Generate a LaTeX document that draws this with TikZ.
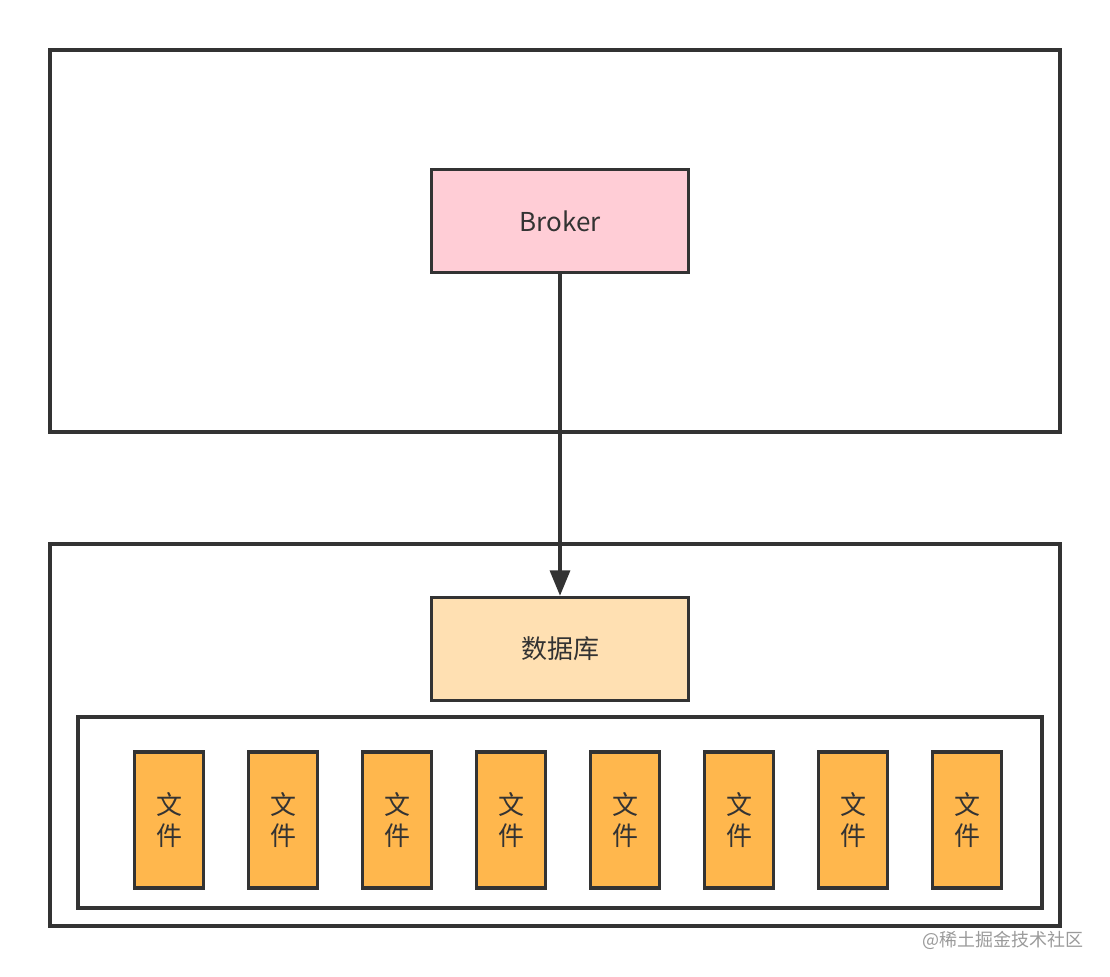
\documentclass[tikz,border=0pt]{standalone}
\usepackage{fontspec}
\setmainfont{Noto Sans CJK SC}
\usetikzlibrary{arrows.meta}
\definecolor{linec}{HTML}{333333}
\definecolor{pinkf}{HTML}{FFCDD6}
\definecolor{dbf}{HTML}{FFE0B2}
\definecolor{filef}{HTML}{FFB74D}
\definecolor{wmc}{HTML}{9A9A9A}
\tikzset{
  frame/.style={draw=linec, line width=2.4pt},
  boxn/.style={draw=linec, line width=2.4pt, minimum width=193pt, minimum height=77.5pt, inner sep=0pt, text=linec, font=\fontsize{19.5pt}{22pt}\selectfont},
  filebox/.style={draw=linec, line width=2.4pt, fill=filef, minimum width=51.8pt, minimum height=102pt, inner sep=0pt, text=linec, align=center, font=\fontsize{19.5pt}{23pt}\selectfont},
  conn/.style={draw=linec, line width=2.4pt, -{Triangle[length=19pt,width=15pt]}}
}
\begin{document}
\begin{tikzpicture}[x=0.75pt,y=-0.75pt]
\useasboundingbox (0,0) rectangle (1110,976);
\draw[frame] (50,50) rectangle (1060,432);
\draw[frame] (50,544) rectangle (1060,926);
\draw[frame] (78,717) rectangle (1042,908);
\node[boxn, fill=pinkf] (broker) at (560,221) {Broker};
\node[boxn, fill=dbf] (db) at (560,649) {数据库};
\foreach \i in {0,...,7} {
  \node[filebox] (f\i) at (169+114*\i,820) {文\\件};
}
\draw[conn] (broker.south) -- (db.north);
\node[text=wmc, font=\fontsize{13.5pt}{15pt}\selectfont, anchor=east, inner sep=0pt] (wm) at (1084,940) {@稀土掘金技术社区};
\end{tikzpicture}
\end{document}
